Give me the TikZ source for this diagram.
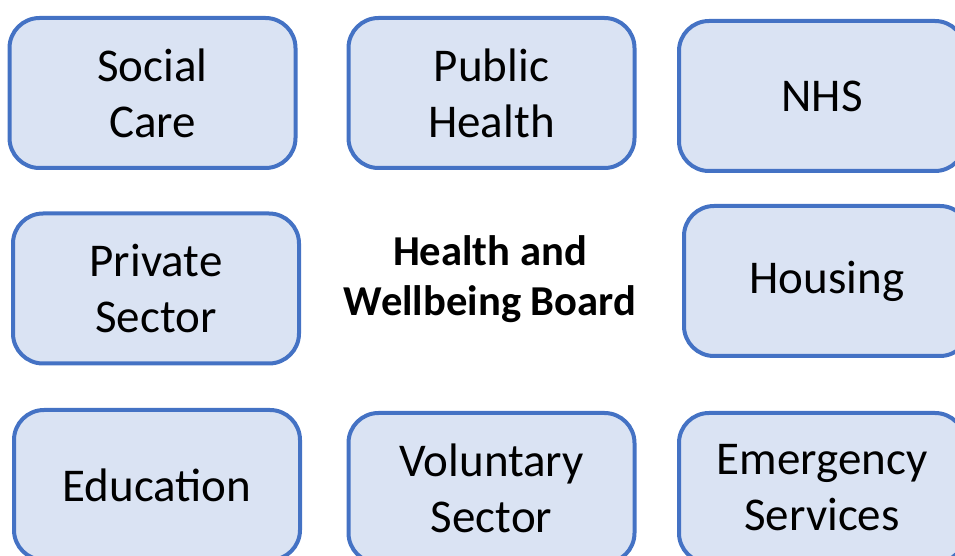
\documentclass[tikz,border=0pt]{standalone}
\usepackage{fontspec}
\setmainfont{Carlito}
\usepackage{xcolor}
\usepackage{tikz}
\usetikzlibrary{positioning}

\definecolor{boxfill}{HTML}{DAE3F3}
\definecolor{boxline}{HTML}{4472C4}

\tikzset{
    partner/.style={draw=boxline, fill=boxfill, line width=2pt, rounded corners=15pt,
        minimum width=143pt, minimum height=75pt, align=center,
        font=\fontsize{23.5}{28}\selectfont},
    board/.style={align=center, font=\fontsize{21.3}{25}\selectfont\bfseries}
}

\begin{document}
\begin{tikzpicture}[x=0.5pt, y=-0.5pt]
    \useasboundingbox (0, 0) rectangle (955, 556);
    \clip (0, 0) rectangle (955, 556);

    % top row
    \node[partner] (social) at (152.5, 93) {Social\\Care};
    \node[partner] (public) at (491.5, 93) {Public\\Health};
    \node[partner] (nhs) at (822, 96) {NHS};

    % middle row
    \node[partner] (private) at (156, 288.5) {Private\\Sector};
    \node[board] (hwb) at (490, 279) {Health and\\Wellbeing Board};
    \node[partner] (housing) at (827, 281) {Housing};

    % bottom row
    \node[partner] (education) at (157, 485) {Education};
    \node[partner] (voluntary) at (491.5, 488) {Voluntary\\Sector};
    \node[partner] (emergency) at (822, 488) {Emergency\\Services};

\end{tikzpicture}
\end{document}
